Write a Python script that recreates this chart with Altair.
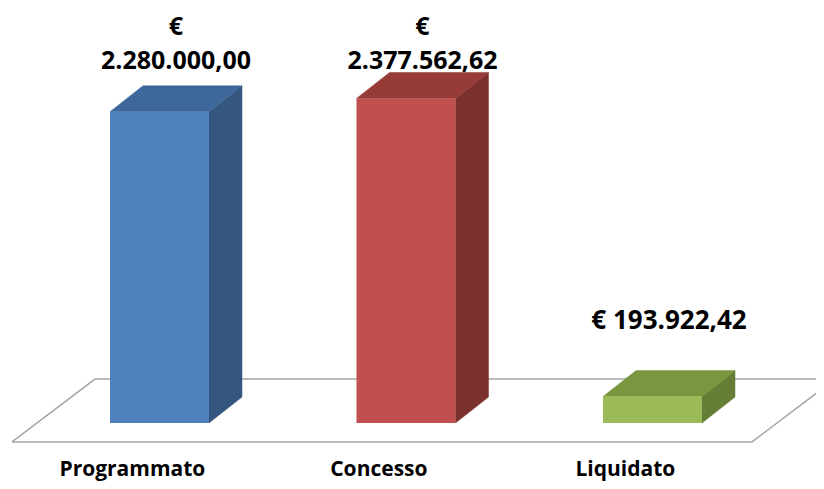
import altair as alt
import pandas as pd

# ---- data ----
categories = ["Programmato", "Concesso", "Liquidato"]
values = [2280000.00, 2377562.62, 193922.42]
value_labels = ["€\n2.280.000,00", "€\n2.377.562,62", "€ 193.922,42"]

front_colors = ["#4F81BD", "#C0504D", "#9BBB59"]
top_colors = ["#3E679B", "#973B39", "#7A963F"]
side_colors = ["#34567F", "#7C302E", "#657D35"]

# ---- 3D geometry (style) ----
HW = 0.2008      # half width of front face, in slot units
DX = 0.1339      # depth offset, x (slot units)
DY = 190000      # depth offset, y (value units)
FLOOR_FRONT = -139000
FLOOR_BACK = 322000
FLOOR_X = [-0.5984, 2.4037, 2.7404, -0.2617, -0.5984]
FLOOR_Y = [FLOOR_FRONT, FLOOR_FRONT, FLOOR_BACK, FLOOR_BACK, FLOOR_FRONT]
X_DOMAIN = [-0.6146, 2.6633]
Y_DOMAIN = [-425000, 3040000]

front_rows, side_rows, top_rows, label_rows = [], [], [], []
for i, (c, v, lab) in enumerate(zip(categories, values, value_labels)):
    x0, x1 = i - HW, i + HW
    front_rows.append({"cat": c, "x": x0, "x2": x1, "y": v, "y2": 0})
    side_rows += [
        {"cat": c, "x": x1, "y": v, "y2": 0},
        {"cat": c, "x": x1 + DX, "y": v + DY, "y2": DY},
    ]
    top_rows += [
        {"cat": c, "x": x0, "y": v, "y2": v},
        {"cat": c, "x": x0 + DX, "y": v + DY, "y2": v},
        {"cat": c, "x": x1, "y": v + DY, "y2": v},
        {"cat": c, "x": x1 + DX, "y": v + DY, "y2": v + DY},
    ]
    label_rows.append({
        "cat": c, "xc": i + DX / 2, "yt": v + DY, "lab": lab,
        "multi": 1 if "\n" in lab else 0, "xl": i - 0.11,
    })

front_df = pd.DataFrame(front_rows)
side_df = pd.DataFrame(side_rows)
top_df = pd.DataFrame(top_rows)
label_df = pd.DataFrame(label_rows)
floor_df = pd.DataFrame({"x": FLOOR_X, "y": FLOOR_Y, "o": list(range(len(FLOOR_X)))})

xs = alt.Scale(domain=X_DOMAIN, nice=False, zero=False)
ys = alt.Scale(domain=Y_DOMAIN, nice=False, zero=False)
X = lambda f: alt.X(f, type="quantitative", scale=xs, axis=None)
Y = lambda f: alt.Y(f, type="quantitative", scale=ys, axis=None)

floor = alt.Chart(floor_df).mark_line(color="#A6A6A6", strokeWidth=1.5).encode(
    x=X("x"), y=Y("y"), order="o:Q"
)

side = alt.Chart(side_df).mark_area(strokeWidth=0.5).encode(
    x=X("x"), y=Y("y"), y2="y2",
    color=alt.Color("cat:N", scale=alt.Scale(domain=categories, range=side_colors), legend=None),
    stroke=alt.Stroke("cat:N", scale=alt.Scale(domain=categories, range=side_colors), legend=None),
)

top = alt.Chart(top_df).mark_area(strokeWidth=0.5).encode(
    x=X("x"), y=Y("y"), y2="y2",
    color=alt.Color("cat:N", scale=alt.Scale(domain=categories, range=top_colors), legend=None),
    stroke=alt.Stroke("cat:N", scale=alt.Scale(domain=categories, range=top_colors), legend=None),
)

front = alt.Chart(front_df).mark_rect().encode(
    x=X("x"), x2="x2", y=Y("y"), y2="y2",
    color=alt.Color("cat:N", scale=alt.Scale(domain=categories, range=front_colors), legend=None),
)

font = "Open Sans"
lab_multi = alt.Chart(label_df).transform_filter("datum.multi == 1").transform_joinaggregate(
    ymax="max(yt)"
).mark_text(
    font=font, fontSize=25, fontWeight="bold", color="#000000",
    lineBreak="\n", lineHeight=34, baseline="alphabetic", dy=-37,
).encode(x=X("xc"), y=Y("ymax"), text="lab:N")

lab_single = alt.Chart(label_df).transform_filter("datum.multi == 0").mark_text(
    font=font, fontSize=26, fontWeight="bold", color="#000000",
    baseline="alphabetic", dy=-42,
).encode(x=X("xc"), y=Y("yt"), text="lab:N")

cat_labels = alt.Chart(label_df).mark_text(
    font=font, fontSize=21, fontWeight="bold", color="#000000",
    baseline="alphabetic", dy=-5,
).encode(x=X("xl"), y=alt.datum(Y_DOMAIN[0], type="quantitative", scale=ys), text="cat:N")

chart = alt.layer(floor, side, top, front, lab_multi, lab_single, cat_labels).resolve_scale(
    color="independent", stroke="independent"
).properties(
    width=808, height=473, padding=0, autosize="none", background="white"
).configure_view(stroke=None)

chart.save("out.html", embed_options={"renderer": "svg", "actions": False})
